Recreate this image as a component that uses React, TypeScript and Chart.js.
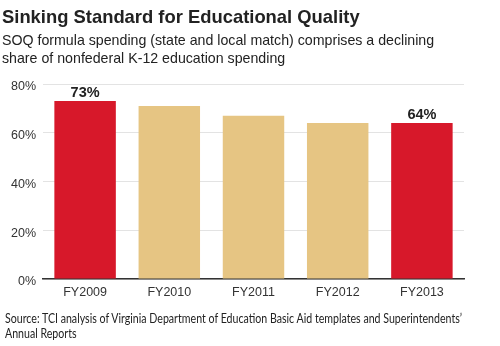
import React, { useEffect, useRef } from "react";
import { Chart, registerables } from "chart.js";

Chart.register(...registerables);

const categories = ["FY2009", "FY2010", "FY2011", "FY2012", "FY2013"];
const values = [73, 71, 67, 64, 64];
const barColors = ["#D7182A", "#E6C583", "#E6C583", "#E6C583", "#D7182A"];
const valueLabels = ["73%", "", "", "", "64%"];
const yTicks = [0, 20, 40, 60, 80];

const labelPlugin = {
  id: "valueLabels",
  afterDatasetsDraw(chart: any) {
    const ctx = chart.ctx;
    const meta = chart.getDatasetMeta(0);
    ctx.save();
    ctx.font = "bold 14.5px 'Liberation Sans', Arial, sans-serif";
    ctx.fillStyle = "#222";
    ctx.textAlign = "center";
    ctx.textBaseline = "bottom";
    meta.data.forEach((bar: any, i: number) => {
      const t = valueLabels[i];
      if (t) ctx.fillText(t, bar.x, bar.y - 1);
    });
    ctx.restore();
  },
};

export default function App() {
  const ref = useRef<HTMLCanvasElement>(null);
  const srcRef = useRef<HTMLDivElement>(null);
  useEffect(() => {
    if (!ref.current) return;
    const chart = new Chart(ref.current, {
      type: "bar",
      data: {
        labels: categories,
        datasets: [
          {
            data: values,
            backgroundColor: barColors,
            barPercentage: 0.73,
            categoryPercentage: 1,
          },
        ],
      },
      plugins: [labelPlugin],
      options: {
        animation: false,
        responsive: false,
        maintainAspectRatio: false,
        layout: { padding: { left: 0, right: 36, top: 84, bottom: 0 } },
        plugins: { legend: { display: false }, tooltip: { enabled: false } },
        scales: {
          x: {
            grid: { display: false, drawTicks: false },
            border: { display: true, color: "#333", width: 1.5 },
            ticks: {
              color: "#333",
              font: { family: "'Liberation Sans', Arial, sans-serif", size: 12.5 },
              padding: 6,
            },
            afterFit(scale: any) {
              scale.height = 67;
            },
          },
          y: {
            min: 0,
            max: 80,
            afterBuildTicks(scale: any) {
              scale.ticks = yTicks.map((v) => ({ value: v }));
            },
            grid: { color: "#E3E3E3", lineWidth: 1, drawTicks: false },
            border: { display: false },
            ticks: {
              color: "#333",
              font: { family: "'Liberation Sans', Arial, sans-serif", size: 12.5 },
              padding: 7,
              labelOffset: 3,
              callback: (v: any) => v + "%",
            },
            afterFit(scale: any) {
              scale.width = 43;
            },
          },
        },
      },
    });
    const line = srcRef.current?.querySelector("span") as HTMLSpanElement | null;
    if (line && srcRef.current) {
      const w = line.getBoundingClientRect().width;
      if (w > 0) srcRef.current.style.transform = `scaleX(${457 / w})`;
    }
    return () => chart.destroy();
  }, []);

  return (
    <div
      style={{
        position: "fixed",
        left: 0,
        top: 0,
        width: 500,
        height: 346,
        background: "#fff",
        overflow: "hidden",
        fontFamily: "'Liberation Sans', Arial, sans-serif",
        color: "#222",
      }}
    >
      <canvas ref={ref} width={500} height={346} style={{ position: "absolute", left: 0, top: 0 }} />
      <div style={{ position: "absolute", left: 2, top: 6, fontSize: 18.4, fontWeight: "bold", whiteSpace: "nowrap" }}>
        Sinking Standard for Educational Quality
      </div>
      <div style={{ position: "absolute", left: 2, top: 31, fontSize: 14.2, lineHeight: "18px", whiteSpace: "nowrap" }}>
        SOQ formula spending (state and local match) comprises a declining
        <br />
        share of nonfederal K-12 education spending
      </div>
      <div
        ref={srcRef}
        style={{
          position: "absolute",
          left: 5,
          top: 311,
          fontSize: 13,
          lineHeight: "15px",
          fontFamily: "Lato, sans-serif",
          color: "#222",
          whiteSpace: "nowrap",
          transformOrigin: "0 0",
        }}
      >
        <span>Source: TCI analysis of Virginia Department of Education Basic Aid templates and Superintendents’</span>
        <br />
        Annual Reports
      </div>
    </div>
  );
}
